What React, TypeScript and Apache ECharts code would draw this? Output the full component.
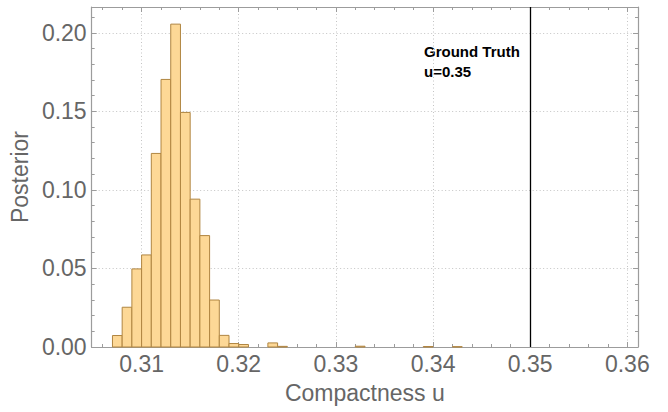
import React, { useEffect, useRef } from "react";
import * as echarts from "echarts";

// Histogram bins (left edge) and posterior heights
const binWidth = 0.001;
const binStarts = [
  0.307, 0.308, 0.309, 0.31, 0.311, 0.312, 0.313, 0.314, 0.315, 0.316, 0.317,
  0.318, 0.319, 0.32, 0.323, 0.324, 0.332, 0.339, 0.342,
];
const posterior = [
  0.0073, 0.0253, 0.0497, 0.0586, 0.1232, 0.1703, 0.2055, 0.1493, 0.0941,
  0.0709, 0.0299, 0.0074, 0.0022, 0.0016, 0.0026, 0.0004, 0.0005, 0.0003,
  0.0002,
];

const groundTruth = 0.35;
const annotationLines = ["Ground Truth", "u=0.35"];

const xMajorTicks = [0.31, 0.32, 0.33, 0.34, 0.35, 0.36];
const xMinorTicks = [
  0.306, 0.308, 0.312, 0.314, 0.316, 0.318, 0.322, 0.324, 0.326, 0.328, 0.332,
  0.334, 0.336, 0.338, 0.342, 0.344, 0.346, 0.348, 0.352, 0.354, 0.356, 0.358,
];
const yMajorTicks = [0, 0.05, 0.1, 0.15, 0.2];
const yMinorTicks = [
  0.01, 0.02, 0.03, 0.04, 0.06, 0.07, 0.08, 0.09, 0.11, 0.12, 0.13, 0.14, 0.16,
  0.17, 0.18, 0.19, 0.21,
];

const xMin = 0.30486;
const xMax = 0.3611;
const yMin = 0;
const yMax = 0.2164;

const FRAME = "#9c9c9c";
const LABEL = "#666666";
const FONT = "Liberation Sans, Arial, sans-serif";

function makeAxis(
  kind: "x" | "y",
  position: string,
  major: boolean,
  withLabels: boolean
): any {
  const isX = kind === "x";
  const ticks = major ? (isX ? xMajorTicks : yMajorTicks) : isX ? xMinorTicks : yMinorTicks;
  const ax: any = {
    type: "value",
    position,
    min: isX ? xMin : yMin,
    max: isX ? xMax : yMax,
    axisLine: { show: major, onZero: false, lineStyle: { color: FRAME, width: 1.2 } },
    axisTick: {
      show: true,
      inside: true,
      length: major ? 5 : 3,
      customValues: ticks,
      lineStyle: { color: FRAME, width: 1 },
    },
    axisLabel: {
      show: withLabels,
      customValues: ticks,
      color: LABEL,
      fontSize: 23,
      fontFamily: FONT,
      margin: isX ? 5 : 5,
      formatter: (v: number) => v.toFixed(2),
    },
    splitLine: {
      show: major && withLabels,
      lineStyle: { color: "#c4c4c4", type: [1, 2.5], width: 1 },
    },
    minorTick: { show: false },
  };
  if (withLabels) {
    ax.name = isX ? "Compactness u" : "Posterior";
    ax.nameLocation = "middle";
    ax.nameGap = isX ? 34 : 57;
    ax.nameTextStyle = { color: LABEL, fontSize: 23, fontFamily: FONT };
  }
  return ax;
}

export default function App() {
  const ref = useRef<HTMLDivElement>(null);
  useEffect(() => {
    if (!ref.current) return;
    const chart = echarts.init(ref.current, null, { renderer: "svg" });
    const data = binStarts.map((s, i) => [s, s + binWidth, posterior[i]]);
    chart.setOption({
      animation: false,
      backgroundColor: "#ffffff",
      grid: { left: 88.5, right: 30, top: 7, bottom: 65 },
      xAxis: [
        makeAxis("x", "bottom", true, true),
        makeAxis("x", "bottom", false, false),
        makeAxis("x", "top", true, false),
        makeAxis("x", "top", false, false),
      ],
      yAxis: [
        makeAxis("y", "left", true, true),
        makeAxis("y", "left", false, false),
        makeAxis("y", "right", true, false),
        makeAxis("y", "right", false, false),
      ],
      graphic: annotationLines.map((t, i) => ({
        type: "text",
        left: 424,
        top: 44 + i * 20,
        style: {
          text: t,
          fill: "#000000",
          font: `bold 15px ${FONT}`,
        },
      })),
      series: [
        {
          type: "custom",
          xAxisIndex: 0,
          yAxisIndex: 0,
          encode: { x: [0, 1], y: 2 },
          data,
          renderItem: (params: any, api: any) => {
            const x0 = api.value(0);
            const x1 = api.value(1);
            const y = api.value(2);
            const p0 = api.coord([x0, y]);
            const p1 = api.coord([x1, 0]);
            return {
              type: "rect",
              shape: {
                x: p0[0],
                y: p0[1],
                width: p1[0] - p0[0],
                height: p1[1] - p0[1],
              },
              style: {
                fill: "#fdd896",
                stroke: "#b08541",
                lineWidth: 1,
              },
            };
          },
          markLine: {
            silent: true,
            symbol: "none",
            label: { show: false },
            lineStyle: { color: "#000000", width: 1.3, type: "solid" },
            data: [{ xAxis: groundTruth }],
          },
        },
      ],
    });
    return () => chart.dispose();
  }, []);
  return (
    <div
      ref={ref}
      style={{ position: "fixed", left: 0, top: 0, width: 668, height: 412 }}
    />
  );
}
